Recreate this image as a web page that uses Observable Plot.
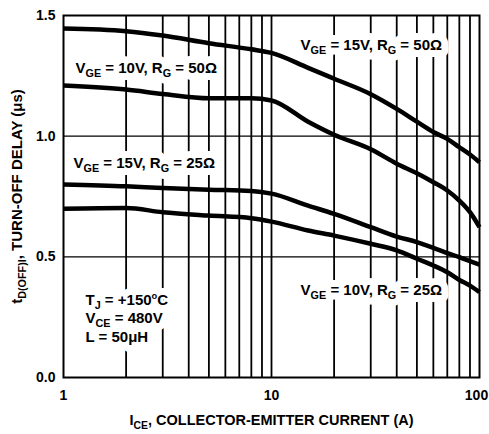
<!DOCTYPE html>
<html><head><meta charset="utf-8">
<script src="https://cdn.jsdelivr.net/npm/d3@7"></script>
<script src="https://cdn.jsdelivr.net/npm/@observablehq/plot@0.6"></script>
<style>body{margin:0;background:#fff}</style>
</head><body><div id="chart"></div>
<script>
// Collector-emitter current (A)
const current = [1, 2, 3, 5, 8, 10, 15, 20, 30, 40, 50, 60, 70, 80, 90, 100];
// Turn-off delay (µs) for each gate condition
const vge15rg50 = [1.446, 1.435, 1.417, 1.385, 1.360, 1.345, 1.283, 1.238, 1.174, 1.113, 1.060, 1.017, 0.989, 0.954, 0.924, 0.892];
const vge10rg50 = [1.210, 1.193, 1.175, 1.157, 1.157, 1.148, 1.060, 1.006, 0.946, 0.886, 0.846, 0.809, 0.775, 0.733, 0.685, 0.623];
const vge15rg25 = [0.800, 0.792, 0.785, 0.778, 0.773, 0.762, 0.712, 0.678, 0.623, 0.584, 0.561, 0.537, 0.515, 0.499, 0.482, 0.468];
const vge10rg25 = [0.699, 0.702, 0.685, 0.671, 0.660, 0.646, 0.609, 0.588, 0.554, 0.527, 0.492, 0.464, 0.436, 0.404, 0.381, 0.354];
const seriesNames = ["V_{GE} = 15V, R_{G} = 50Ω", "V_{GE} = 10V, R_{G} = 50Ω", "V_{GE} = 15V, R_{G} = 25Ω", "V_{GE} = 10V, R_{G} = 25Ω"];
const seriesValues = [vge15rg50, vge10rg50, vge15rg25, vge10rg25];

// Axis ticks and grid
const xTicks = [1, 10, 100];
const yTicks = [0, 0.5, 1.0, 1.5];
const xGrid = [2, 3, 4, 5, 6, 7, 8, 9, 10, 20, 30, 40, 50, 60, 70, 80, 90];
const yGrid = [0.5, 1.0];

// Annotation labels (anchored in data coordinates)
const labelText = [seriesNames[0], seriesNames[1], seriesNames[2], seriesNames[3],
  "T_{J} = +150^{o}C", "V_{CE} = 480V", "L = 50μH"];
const labelX = [13.8, 1.142, 1.117, 13.8, 1.276, 1.276, 1.276];
const labelY = [1.375, 1.281, 0.890, 0.360, 0.322, 0.246, 0.169];

const xLabel = "I_{CE}, COLLECTOR-EMITTER CURRENT (A)";
const yLabel = "t_{D(OFF)I}, TURN-OFF DELAY (μs)";

const rows = seriesNames.flatMap((s, i) => current.map((c, j) => ({series: s, x: c, y: seriesValues[i][j]})));
const labels = labelText.map((t, i) => ({text: t, x: labelX[i], y: labelY[i]}));

const labelOpts = {x: "x", y: "y", text: "text", textAnchor: "start", lineAnchor: "middle", fontSize: 15, fontWeight: "bold"};
const tickOpts = {tickSize: 0, tickPadding: 13, tickFormat: d => String(d), fontSize: 14, fontWeight: "bold", label: null};

const chart = Plot.plot({
  width: 489, height: 434,
  marginLeft: 63, marginRight: 10, marginTop: 15, marginBottom: 57,
  style: {fontFamily: "'Liberation Sans', Arial, sans-serif", fontWeight: "bold", fontSize: "14px", background: "white", color: "black", overflow: "visible"},
  x: {type: "log", domain: [1, 100]},
  y: {domain: [0, 1.5]},
  marks: [
    Plot.ruleX(xGrid, {stroke: "black", strokeWidth: 1.8}),
    Plot.ruleY(yGrid, {stroke: "black", strokeWidth: 1.4}),
    // white halo behind the annotations (breaks the grid like the original)
    Plot.text(labels, {...labelOpts, fill: "white", stroke: "white", strokeWidth: 14, strokeLinejoin: "round"}),
    Plot.text(labels, {...labelOpts, fill: "black"}),
    Plot.line(rows, {x: "x", y: "y", z: "series", curve: "monotone-x", stroke: "black",
      strokeWidth: 4.5, strokeLinejoin: "round", strokeLinecap: "butt"}),
    Plot.frame({stroke: "black", strokeWidth: 2}),
    Plot.axisX(xTicks.slice(0, -1), tickOpts),
    Plot.axisX(xTicks.slice(-1), {...tickOpts, dx: -3}),
    Plot.axisY(yTicks, {tickSize: 0, tickPadding: 8, tickFormat: d3.format(".1f"), fontSize: 14, fontWeight: "bold", label: null}),
    Plot.text([xLabel], {frameAnchor: "bottom", dy: 43, textAnchor: "middle", lineAnchor: "middle", fontSize: 14.5, fontWeight: "bold", text: d => d}),
    Plot.text([yLabel], {frameAnchor: "left", dx: -46, rotate: -90, textAnchor: "middle", lineAnchor: "middle", fontSize: 15, fontWeight: "bold", text: d => d})
  ]
});

// Render _{sub} and ^{sup} markup as real tspans
d3.select(chart).selectAll("text").each(function() {
  const t = this.textContent;
  if (!/[_^]\{/.test(t)) return;
  const el = d3.select(this);
  el.text(null);
  const re = /([_^])\{([^}]*)\}/g;
  let last = 0, m, shift = 0;
  const add = (s, kind) => {
    if (!s) return;
    const ts = el.append("tspan").text(s);
    if (kind === "_") { ts.attr("font-size", "0.72em").attr("dy", 4 - shift); shift = 4; }
    else if (kind === "^") { ts.attr("font-size", "0.62em").attr("dy", -6 - shift); shift = -6; }
    else if (shift !== 0) { ts.attr("dy", -shift); shift = 0; }
  };
  while ((m = re.exec(t))) {
    add(t.slice(last, m.index), null);
    add(m[2], m[1]);
    last = re.lastIndex;
  }
  add(t.slice(last), null);
});

document.getElementById("chart").appendChild(chart);
</script>
</body></html>
